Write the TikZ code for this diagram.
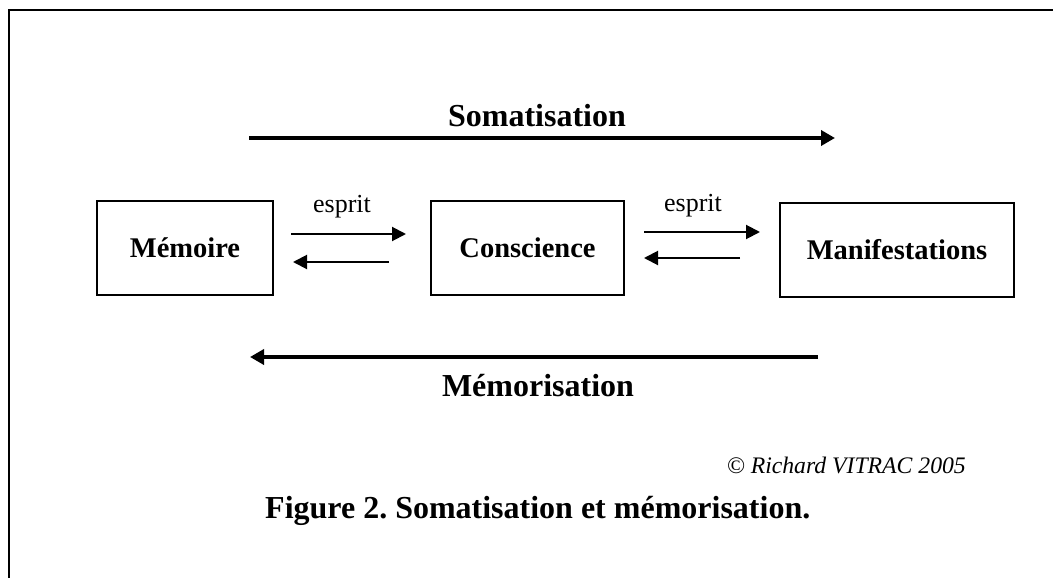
\documentclass[tikz,border=0pt]{standalone}
\usepackage{fontspec}
\setmainfont{Liberation Serif}
\usepackage{tikz}
\usetikzlibrary{arrows.meta}
\frenchspacing
\tikzset{
	box/.style={draw, line width=1.3pt, inner sep=0pt, minimum height=94pt, font=\fontsize{28.5}{32}\selectfont\bfseries},
	heading/.style={inner sep=0pt, anchor=base, font=\fontsize{32}{36}\selectfont\bfseries},
	smalltext/.style={inner sep=0pt, anchor=base, font=\fontsize{26}{30}\selectfont},
	thinarrow/.style={line width=2pt, -{Triangle[length=14pt,width=14pt]}},
	bigarrow/.style={line width=4.5pt, -{Triangle[length=14pt,width=15pt]}}
}

\begin{document}
\begin{tikzpicture}[x=1pt,y=-1pt]
	\useasboundingbox (0,0) rectangle (1053,578);
	%%%frame
	\draw[line width=2pt] (1053,10) -- (9,10) -- (9,578);
	%%%boxes
	\node[box, minimum width=176pt] at (185,248) (mem){M\'emoire};
	\node[box, minimum width=193pt] at (527.5,248) (cons){Conscience};
	\node[box, minimum width=234pt] at (897,250) (man){Manifestations};
	%%%arrow ends
	%somatisation
	\coordinate (somL) at (249,138);
	\coordinate (somR) at (835,138);
	%memorisation
	\coordinate (memR) at (818,357);
	\coordinate (memL) at (250,357);
	%memoire <-> conscience
	\coordinate (e1a) at (291,234);
	\coordinate (e1b) at (406,234);
	\coordinate (e1c) at (389,262);
	\coordinate (e1d) at (293,262);
	%conscience <-> manifestations
	\coordinate (e2a) at (644,232);
	\coordinate (e2b) at (760,232);
	\coordinate (e2c) at (740,258);
	\coordinate (e2d) at (644,258);
	%%%links
	%big arrows
	\draw[bigarrow] (somL) -- (somR);
	\node[heading] at (537,127) (somtext){Somatisation};
	\draw[bigarrow] (memR) -- (memL);
	\node[heading] at (538,396) (memtext){M\'emorisation};
	%small arrows
	\draw[thinarrow] (e1a) -- (e1b);
	\draw[thinarrow] (e1c) -- (e1d);
	\node[smalltext] at (342,212) (esp1){esprit};
	\draw[thinarrow] (e2a) -- (e2b);
	\draw[thinarrow] (e2c) -- (e2d);
	\node[smalltext] at (693,211) (esp2){esprit};
	%%%caption
	\node[inner sep=0pt, anchor=base east, font=\fontsize{23.7}{28}\selectfont\itshape] at (966,473) (copy){\textcopyright{} Richard VITRAC 2005};
	\node[heading, anchor=base west] at (265,518) (caption){Figure 2. Somatisation et m\'emorisation.};
\end{tikzpicture}
\end{document}
